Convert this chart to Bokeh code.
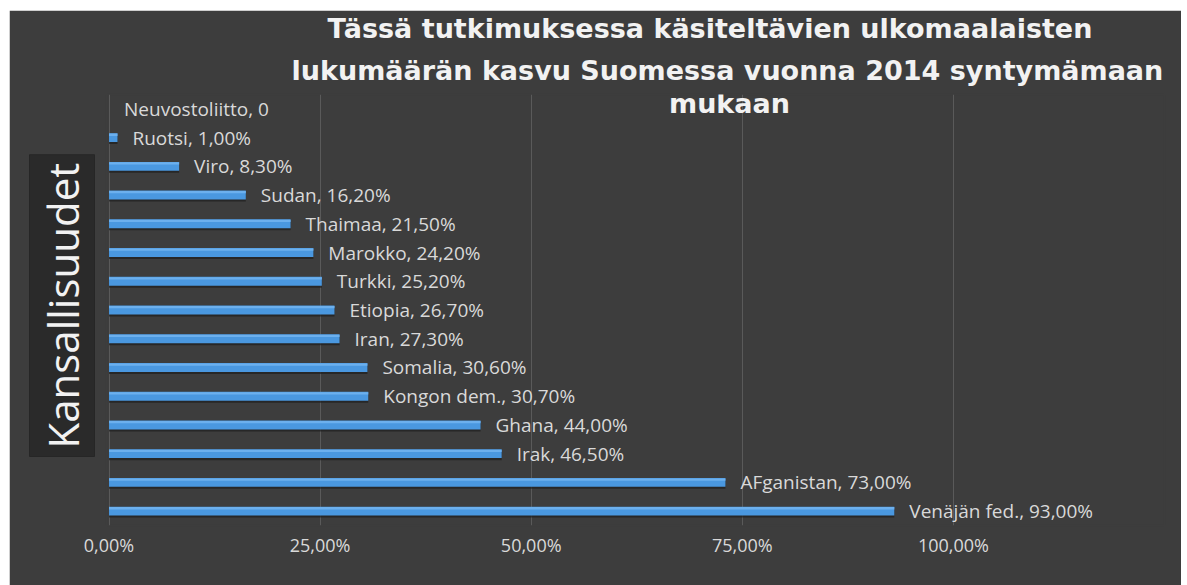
import math
from bokeh.plotting import figure
from bokeh.models import FactorRange, Range1d, FixedTicker, Label, Title, ColumnDataSource, CustomJSTickFormatter
from bokeh.transform import dodge
from bokeh.core.properties import value
from bokeh.embed import file_html
from bokeh.resources import INLINE

# ---- data (bottom -> top) ----
categories = ["Venäjän fed.", "AFganistan", "Irak", "Ghana", "Kongon dem.", "Somalia",
              "Iran", "Etiopia", "Turkki", "Marokko", "Thaimaa", "Sudan", "Viro",
              "Ruotsi", "Neuvostoliitto"]
values = [0.93, 0.73, 0.465, 0.44, 0.307, 0.306, 0.273, 0.267, 0.252, 0.242,
          0.215, 0.162, 0.083, 0.01, 0.0]
tick_values = [0, 0.25, 0.5, 0.75, 1.0]
tick_labels = ["0,00%", "25,00%", "50,00%", "75,00%", "100,00%"]
title_lines = ["Tässä tutkimuksessa käsiteltävien ulkomaalaisten",
               "lukumäärän kasvu Suomessa vuonna 2014 syntymämaan",
               "mukaan"]
axis_title = "Kansallisuudet"


def fmt(name, v):
    if v == 0:
        return f"{name}, 0"
    return f"{name}, " + f"{v * 100:.2f}".replace(".", ",") + "%"


labels = [fmt(c, v) for c, v in zip(categories, values)]
src = ColumnDataSource(dict(cat=categories, val=values, label=labels))

BG = "#3d3d3d"
TXT = "#d9d9d9"

p = figure(width=1172, height=575, margin=(10, 6, 0, 9),
           y_range=FactorRange(factors=categories),
           x_range=Range1d(-0.003, 1.25),
           output_backend="svg", toolbar_location=None,
           min_border_left=97, min_border_right=17,
           min_border_top=80, min_border_bottom=60)
p.outline_line_color = BG
p.outline_line_width = 2
p.background_fill_color = BG
p.border_fill_color = BG

# bar shadow
p.hbar(y=dodge("cat", -0.07, range=p.y_range), left=0, right="val", height=0.31,
       fill_color="#1e1e1e", fill_alpha=0.7, line_color=None, source=src)
# bars
p.hbar(y="cat", left=0, right="val", height=0.31,
       fill_color="#4a98e0", line_color=None, source=src)
# top highlight
p.hbar(y=dodge("cat", 0.1, range=p.y_range), left=0, right="val", height=0.08,
       fill_color="#6cb0ee", line_color=None, source=src)

p.text(x="val", y="cat", text="label", x_offset=15, text_baseline="middle",
       text_align="left", text_font=value("Open Sans"), text_font_size="19px",
       text_color=TXT, source=src)

ticker = FixedTicker(ticks=tick_values)
p.xaxis.ticker = ticker
p.xgrid.ticker = ticker
p.xaxis.formatter = CustomJSTickFormatter(
    args=dict(vals=tick_values, labs=tick_labels),
    code="const i = vals.findIndex(v => Math.abs(v - tick) < 1e-9); return i >= 0 ? labs[i] : '';")
p.xaxis.axis_line_color = None
p.xaxis.major_tick_line_color = None
p.xaxis.minor_tick_line_color = None
p.xaxis.major_tick_out = 0
p.xaxis.major_tick_in = 0
p.xaxis.major_label_standoff = 7
p.xaxis.major_label_text_font = "Open Sans"
p.xaxis.major_label_text_font_size = "18px"
p.xaxis.major_label_text_color = TXT

p.xgrid.grid_line_color = "#5a5a5a"
p.ygrid.grid_line_color = None
p.yaxis.visible = False

# axis title box (left side panel)
p.add_layout(Title(text=axis_title, align="left", offset=69, vertical_align="middle",
                   text_font="Open Sans", text_font_size="42px",
                   text_font_style="normal", text_color="#f2f2f2",
                   background_fill_color="#2a2a2a", background_fill_alpha=1.0,
                   border_line_color="#262626", padding=(8, 4), standoff=14), "left")

# title: line 2 nearest the plot, line 1 above it, line 3 overlaps the plot area
p.add_layout(Title(text=title_lines[1], align="left", offset=185,
                   text_font="DejaVu Sans", text_font_style="bold",
                   text_font_size="27px", text_color="#f2f2f2", standoff=18), "above")
p.add_layout(Title(text=title_lines[0], align="left", offset=221,
                   text_font="DejaVu Sans", text_font_style="bold",
                   text_font_size="27px", text_color="#f2f2f2", standoff=0), "above")
p.add_layout(Label(x=623, y=422, x_units="screen", y_units="screen",
                   text=title_lines[2], text_align="center", text_baseline="alphabetic",
                   text_font="DejaVu Sans", text_font_style="bold",
                   text_font_size="27px", text_color="#f2f2f2"))

open("out.html", "w").write(file_html(p, INLINE))
